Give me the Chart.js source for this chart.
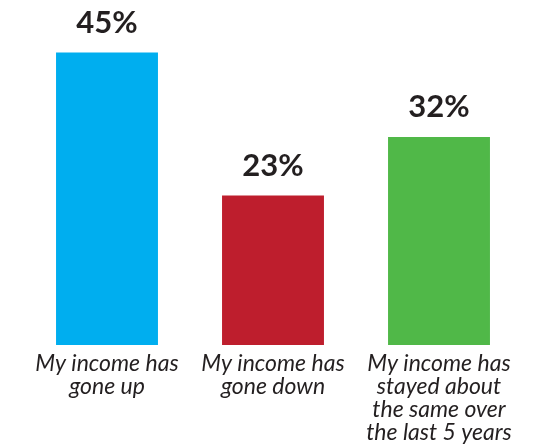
<!DOCTYPE html>
<html>
<head>
<meta charset="utf-8">
<script src="https://cdn.jsdelivr.net/npm/chart.js@4"></script>
<style>
  html, body { margin: 0; padding: 0; background: #fff; }
  #wrap { width: 547px; height: 448px; }
</style>
</head>
<body>
<div id="wrap"><canvas id="chart"></canvas></div>
<script>
// categorias (rótulos em várias linhas) e valores
const categories = [
    ['My income has', 'gone up'],
    ['My income has', 'gone down'],
    ['My income has', 'stayed about', 'the same over', 'the last 5 years']
];
const values = [45, 23, 32];
const barColors = ['#00AEEF', '#BE1E2D', '#50B848'];

// plugin simples para escrever o valor acima de cada barra
const valueLabels = {
    id: 'valueLabels',
    afterDatasetsDraw(chart) {
        const ctx = chart.ctx;
        const meta = chart.getDatasetMeta(0);
        ctx.save();
        ctx.font = 'bold 31px Lato';
        ctx.fillStyle = '#231F20';
        ctx.textAlign = 'center';
        ctx.textBaseline = 'alphabetic';
        meta.data.forEach((bar, i) => {
            ctx.fillText(values[i] + '%', bar.x, bar.y - 20);
        });
        ctx.restore();
    }
};

new Chart(document.getElementById('chart'), {
    type: 'bar',
    data: {
        labels: categories,
        datasets: [{
            data: values,
            backgroundColor: barColors,
            borderWidth: 0,
            categoryPercentage: 1,
            barPercentage: 0.614
        }]
    },
    options: {
        responsive: true,
        maintainAspectRatio: false,
        animation: false,
        layout: { padding: { top: 20, left: 24, right: 25, bottom: 0 } },
        plugins: {
            legend: { display: false },
            tooltip: { enabled: false }
        },
        scales: {
            x: {
                grid: { display: false, drawTicks: false },
                border: { display: false },
                // altura fixa do eixo para a base das barras ficar em ~345px
                afterFit: function (scale) { scale.height = 103; },
                ticks: {
                    color: '#231F20',
                    padding: 7,
                    maxRotation: 0,
                    autoSkip: false,
                    font: { family: 'Lato', style: 'italic', size: 23, lineHeight: 1 }
                }
            },
            y: {
                display: false,
                min: 0,
                max: 50
            }
        }
    },
    plugins: [valueLabels]
});
</script>
</body>
</html>
